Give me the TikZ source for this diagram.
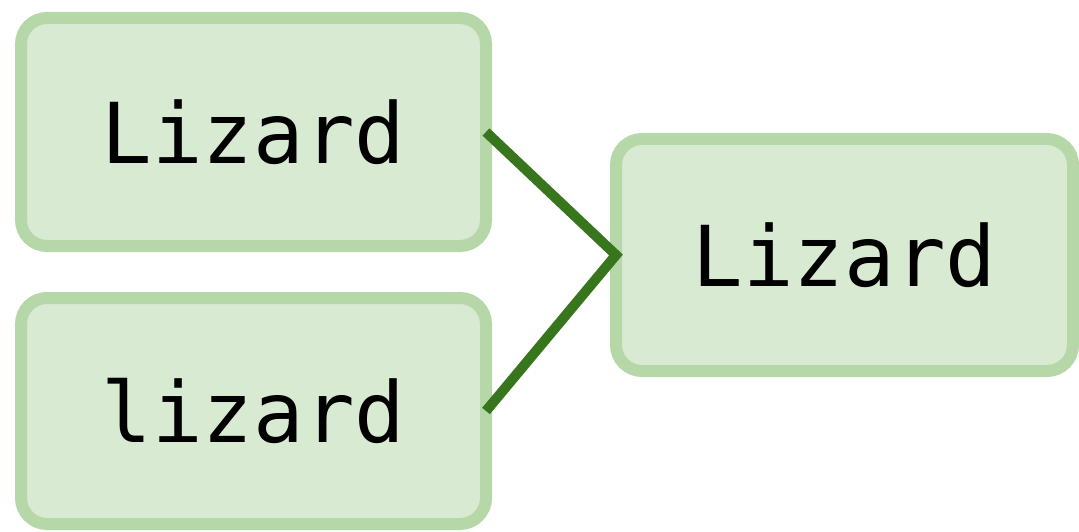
\documentclass[tikz,border=0pt]{standalone}
\usepackage{fontspec}
\setmonofont{DejaVu Sans Mono}
\definecolor{boxfill}{HTML}{D9EAD3}
\definecolor{boxline}{HTML}{B6D7A8}
\definecolor{linkgreen}{HTML}{38761D}
\begin{document}
\begin{tikzpicture}[x=1pt,y=-1pt,
  wordbox/.style={draw=boxline, fill=boxfill, line width=12pt, rounded corners=26pt,
    inner sep=0pt, outer sep=0pt, font=\ttfamily\fontsize{84}{90}\selectfont, text=black},
  link/.style={draw=linkgreen, line width=10pt}]
\useasboundingbox (0,0) rectangle (1079,532);
\node[wordbox, minimum width=465pt, minimum height=228pt] (a) at (253.5,132) {Lizard};
\node[wordbox, minimum width=465pt, minimum height=226pt] (b) at (253.5,411) {lizard};
\node[wordbox, minimum width=457pt, minimum height=232pt] (c) at (844.5,255) {Lizard};
\draw[link] (a.east) -- (c.west) -- (b.east);
\end{tikzpicture}
\end{document}
